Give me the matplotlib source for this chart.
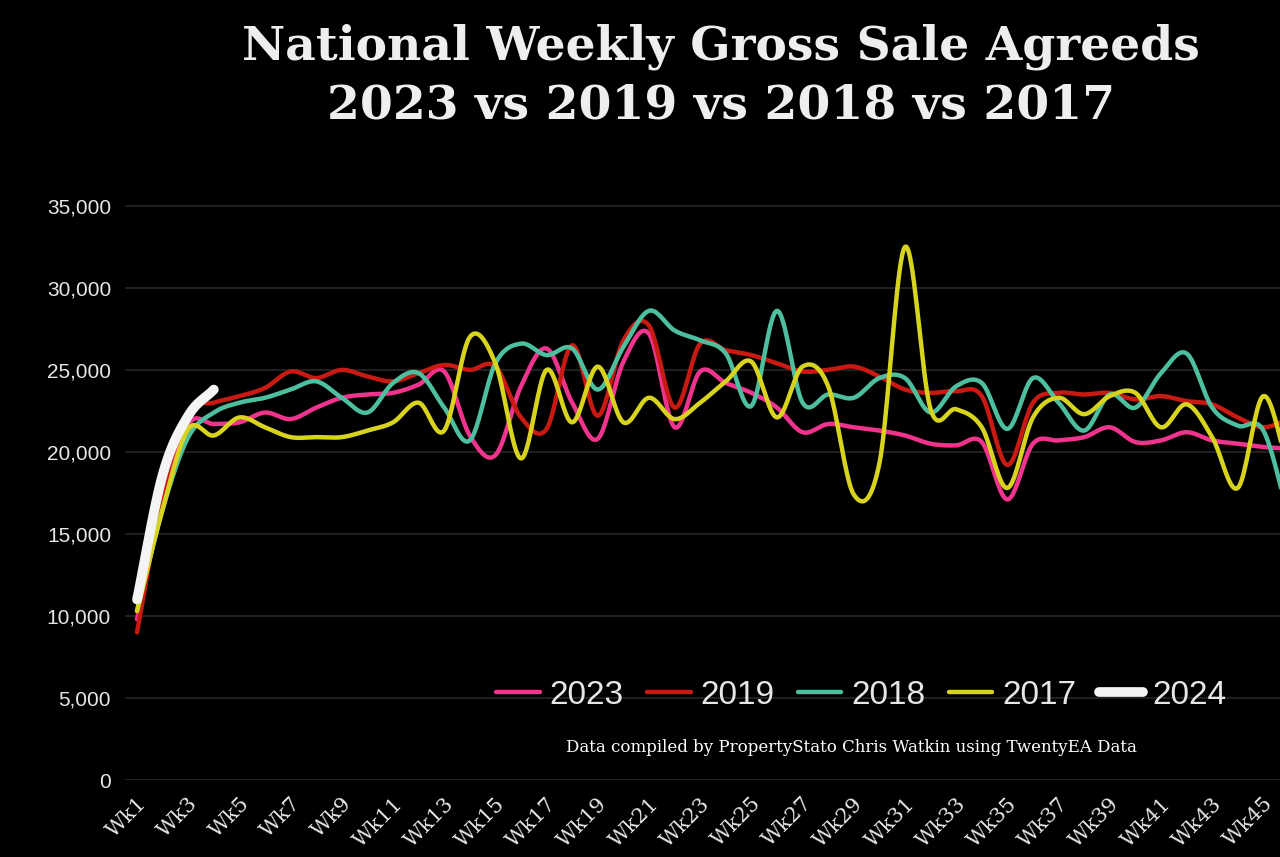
import numpy as np
import matplotlib
matplotlib.use("Agg")
import matplotlib.pyplot as plt

weeks = list(range(1, 47))
s2023 = [9800, 17000, 21700, 21700, 21800, 22400, 22000, 22700, 23300, 23500, 23600, 24100, 24900, 21000, 19800,
         24000, 26300, 23000, 20800, 25500, 27200, 21500, 24900, 24200, 23600, 22700, 21200, 21700, 21500, 21300,
         21000, 20500, 20400, 20600, 17100, 20500, 20700, 20900, 21500, 20600, 20700, 21200, 20700, 20500, 20300, 20200]
s2019 = [9000, 17500, 22400, 23000, 23400, 23900, 24900, 24500, 25000, 24600, 24300, 24800, 25300, 25000, 25200,
         22100, 21400, 26500, 22200, 26800, 27700, 22700, 26600, 26200, 25900, 25400, 24900, 25000, 25200, 24600,
         23800, 23600, 23700, 23400, 19200, 23000, 23600, 23500, 23600, 23200, 23400, 23100, 22900, 22100, 21500, 22000]
s2018 = [10300, 16500, 20900, 22400, 23000, 23300, 23800, 24300, 23300, 22400, 24200, 24800, 22700, 20700, 25400,
         26600, 25900, 26300, 23800, 26400, 28600, 27400, 26800, 26000, 22800, 28600, 23000, 23500, 23300, 24500,
         24500, 22400, 24000, 24200, 21400, 24500, 23000, 21300, 23500, 22700, 24800, 26000, 22700, 21600, 21300, 16000]
s2017 = [10300, 16500, 21400, 21000, 22100, 21500, 20900, 20900, 20900, 21300, 21800, 23000, 21300, 27000, 25400,
         19600, 25000, 21800, 25200, 21800, 23300, 22000, 23000, 24300, 25500, 22100, 25200, 24000, 17400, 19300,
         32500, 22600, 22600, 21500, 17800, 22100, 23300, 22300, 23400, 23600, 21500, 22900, 20900, 17800, 23400, 18900]
s2024 = [11000, 18600, 22200, 23800]
tick_weeks = list(range(1, 46, 2))
tick_labels = ["Wk%d" % w for w in tick_weeks]


def smooth(x, y, n=20):
    # catmull-rom through the points, like excel's smoothed line
    x = np.asarray(x, float)
    y = np.asarray(y, float)
    px = np.concatenate([[2 * x[0] - x[1]], x, [2 * x[-1] - x[-2]]])
    py = np.concatenate([[2 * y[0] - y[1]], y, [2 * y[-1] - y[-2]]])
    xs, ys = [], []
    for i in range(1, len(px) - 2):
        t = np.linspace(0, 1, n, endpoint=False)
        for p, out in ((px, xs), (py, ys)):
            p0, p1, p2, p3 = p[i - 1], p[i], p[i + 1], p[i + 2]
            out.extend(0.5 * (2 * p1 + (-p0 + p2) * t + (2 * p0 - 5 * p1 + 4 * p2 - p3) * t ** 2
                              + (-p0 + 3 * p1 - 3 * p2 + p3) * t ** 3))
    xs.append(x[-1])
    ys.append(y[-1])
    return xs, ys


fig = plt.figure(figsize=(12.8, 8.57), dpi=100, facecolor="black")
ax = fig.add_axes([125 / 1280, 77 / 857, 1155 / 1280, 607 / 857])
ax.set_facecolor("black")

series = [("2023", s2023, "#f0338c", 3.2), ("2019", s2019, "#c81a12", 3.2), ("2018", s2018, "#4dbf9f", 3.2),
          ("2017", s2017, "#d8d41e", 3.2), ("2024", s2024, "#f4f4f4", 7)]
for name, vals, col, lw in series:
    xs, ys = smooth(weeks[:len(vals)], vals)
    ax.plot(xs, ys, color=col, lw=lw, label=name, solid_capstyle="round")

ax.set_yticks(range(0, 35001, 5000))
ax.set_yticklabels(["{:,}".format(v) for v in range(0, 35001, 5000)], color="#e6e6e6", fontsize=15,
                   family="Liberation Sans")
ax.set_xticks(tick_weeks)
ax.set_xticklabels(tick_labels, rotation=45, ha="right", va="top", rotation_mode="anchor",
                   color="#e6e6e6", fontsize=15, family="DejaVu Serif")
ax.set_xlim(0.53, 45.65)
ax.set_ylim(0, 37000)
ax.tick_params(length=0, pad=10)
ax.grid(axis="y", color="#262626", lw=1.2)
for sp in ax.spines.values():
    sp.set_visible(False)

leg = ax.legend(loc="lower right", bbox_to_anchor=(0.98, 0.065), ncol=5, frameon=False,
                handlelength=1.3, columnspacing=0.7, handletextpad=0.3,
                prop={"family": "Liberation Sans", "size": 24})
for t in leg.get_texts():
    t.set_color("#e6e6e6")

fig.text(0.665, 0.122, "Data compiled by PropertyStato Chris Watkin using TwentyEA Data", color="white",
         fontsize=12, family="DejaVu Serif", ha="center")
fig.text(0.563, 0.945, "National Weekly Gross Sale Agreeds", color="#eeeeee", fontsize=34,
         weight="bold", family="DejaVu Serif", ha="center", va="center")
fig.text(0.563, 0.877, "2023 vs 2019 vs 2018 vs 2017", color="#eeeeee", fontsize=34,
         weight="bold", family="DejaVu Serif", ha="center", va="center")

fig.savefig("out.png", dpi=100, facecolor="black")
